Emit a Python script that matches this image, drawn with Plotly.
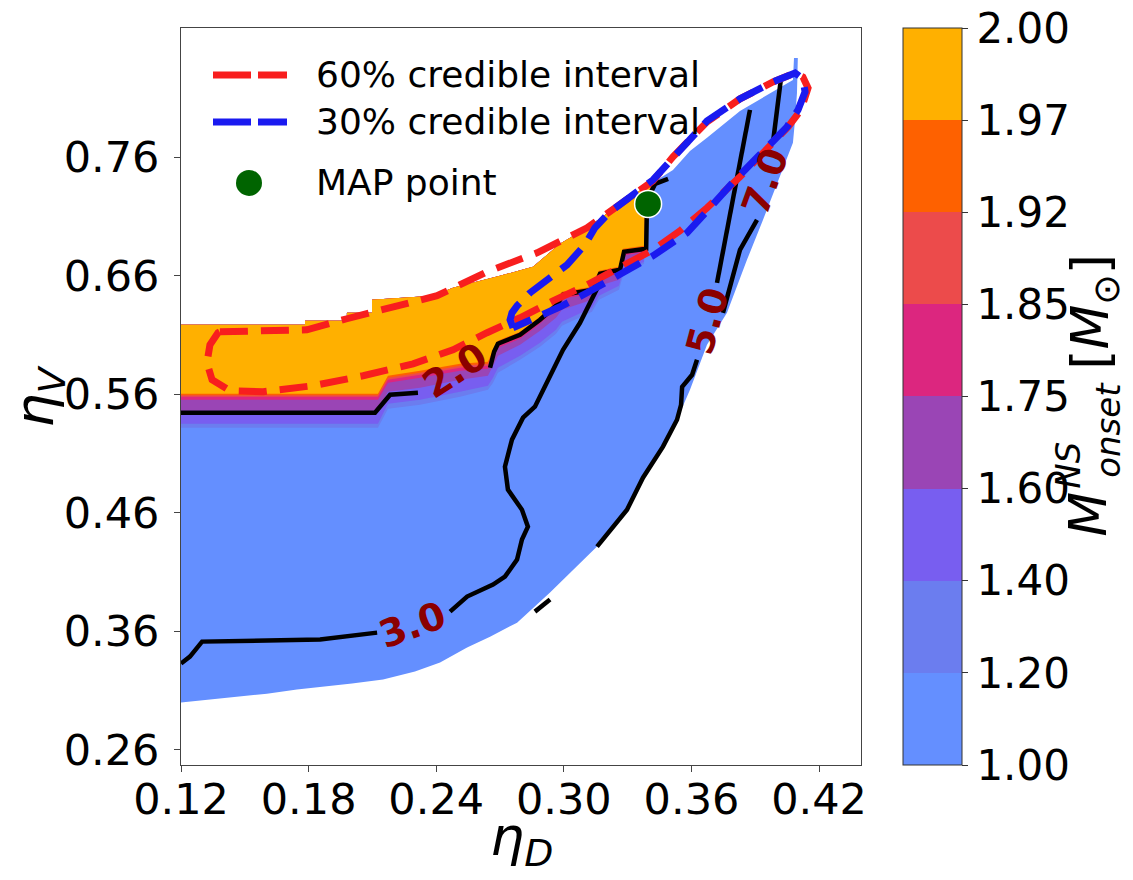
import plotly.graph_objects as go

# ---------------------------------------------------------------------------
# Colour bins of M_onset^NS (bin edges) and the colour of each bin
# ---------------------------------------------------------------------------
mass_levels = [1.00, 1.20, 1.40, 1.60, 1.75, 1.85, 1.92, 1.97, 2.00]
bin_colors = ["#648FFF", "#6B7DEF", "#785EF0", "#9A45B5",
              "#DC267F", "#EC4B4B", "#FE6100", "#FFB000"]

# ---------------------------------------------------------------------------
# Outer edge of the region with a solution (eta_D, eta_V)
# ---------------------------------------------------------------------------
edge_bottom_x = [0.1200, 0.1336, 0.1468, 0.1604, 0.1745, 0.1877, 0.2004, 0.2150,
                 0.2300, 0.2418, 0.2545, 0.2653, 0.2780, 0.2935, 0.3090, 0.3156,
                 0.3297, 0.3372, 0.3466, 0.3546, 0.3593, 0.3673, 0.3767, 0.3861,
                 0.3936, 0.4016, 0.4077, 0.4087, 0.4096, 0.4100]
edge_bottom_y = [0.2999, 0.3024, 0.3049, 0.3074, 0.3108, 0.3133, 0.3159, 0.3193,
                 0.3260, 0.3336, 0.3463, 0.3555, 0.3673, 0.3927, 0.4205, 0.4315,
                 0.4626, 0.4905, 0.5158, 0.5444, 0.5638, 0.6018, 0.6287, 0.6734,
                 0.7071, 0.7434, 0.7721, 0.7915, 0.8142, 0.8437]
edge_top_x = [0.1200, 0.1783, 0.1783, 0.1980, 0.1980, 0.2098, 0.2098, 0.2385,
              0.2479, 0.2700, 0.2855, 0.2982, 0.3109, 0.3325, 0.3429, 0.3513,
              0.3593, 0.3673, 0.3828, 0.3983, 0.4077, 0.4082, 0.4100]
edge_top_y = [0.6186, 0.6186, 0.6220, 0.6220, 0.6287, 0.6287, 0.6397, 0.6431,
              0.6498, 0.6599, 0.6675, 0.6869, 0.7004, 0.7282, 0.7400, 0.7493,
              0.7653, 0.7763, 0.7990, 0.8151, 0.8252, 0.8437, 0.8437]

# ---------------------------------------------------------------------------
# Lower boundary of the region where M_onset^NS exceeds each bin edge
# ---------------------------------------------------------------------------
band_x = [0.1200, 0.2126, 0.2173, 0.2324, 0.2512, 0.2643, 0.2667, 0.2690, 0.2794,
          0.2888, 0.2963, 0.2991, 0.3132, 0.3165, 0.3259, 0.3278, 0.3377, 0.3382,
          0.3415, 0.3429]
band_y_120 = [0.5317, 0.5317, 0.5478, 0.5511, 0.5579, 0.5638, 0.5697, 0.5781, 0.5891,
              0.6001, 0.6110, 0.6178, 0.6296, 0.6397, 0.6481, 0.6599, 0.6700, 0.7240,
              0.7375, 0.7400]
band_y_140 = [0.5351, 0.5351, 0.5520, 0.5554, 0.5621, 0.5672, 0.5739, 0.5823, 0.5925,
              0.6034, 0.6144, 0.6211, 0.6329, 0.6430, 0.6515, 0.6633, 0.6717, 0.7240,
              0.7375, 0.7400]
band_y_160 = [0.5461, 0.5461, 0.5621, 0.5655, 0.5722, 0.5756, 0.5840, 0.5925, 0.6017,
              0.6136, 0.6245, 0.6312, 0.6397, 0.6515, 0.6565, 0.6700, 0.6768, 0.7240,
              0.7375, 0.7400]
band_y_175 = [0.5554, 0.5554, 0.5697, 0.5739, 0.5798, 0.5815, 0.5916, 0.5992, 0.6068,
              0.6194, 0.6321, 0.6405, 0.6447, 0.6582, 0.6616, 0.6768, 0.6802, 0.7240,
              0.7375, 0.7400]
band_y_185 = [0.5579, 0.5579, 0.5722, 0.5764, 0.5823, 0.5840, 0.5942, 0.6017, 0.6093,
              0.6220, 0.6346, 0.6430, 0.6472, 0.6608, 0.6641, 0.6793, 0.6818, 0.7240,
              0.7375, 0.7400]
band_y_192 = [0.5591, 0.5591, 0.5739, 0.5781, 0.5840, 0.5857, 0.5958, 0.6034, 0.6110,
              0.6236, 0.6363, 0.6447, 0.6489, 0.6624, 0.6658, 0.6810, 0.6835, 0.7240,
              0.7375, 0.7400]
band_y_197 = [0.5604, 0.5604, 0.5756, 0.5798, 0.5857, 0.5874, 0.5975, 0.6051, 0.6127,
              0.6253, 0.6380, 0.6464, 0.6506, 0.6641, 0.6675, 0.6827, 0.6852, 0.7240,
              0.7375, 0.7400]

# ---------------------------------------------------------------------------
# Black iso-lines (each one is a list of segments, broken at its label)
# ---------------------------------------------------------------------------
contour_levels = [2.0, 3.0, 5.0, 7.0]

iso_20_x = [[0.1200, 0.2112, 0.2183, 0.2314],
            [0.2653, 0.2672, 0.2690, 0.2794, 0.2888, 0.2968, 0.2996, 0.3137, 0.3170,
             0.3264, 0.3283, 0.3387, 0.3391, 0.3429, 0.3490]]
iso_20_y = [[0.5444, 0.5444, 0.5596, 0.5613],
            [0.5823, 0.5958, 0.6026, 0.6102, 0.6228, 0.6355, 0.6439, 0.6481, 0.6616,
             0.6650, 0.6802, 0.6827, 0.7240, 0.7375, 0.7417]]

iso_30_x = [[0.1200, 0.1242, 0.1299, 0.1618, 0.1854, 0.2122],
            [0.2465, 0.2545, 0.2667, 0.2723, 0.2780, 0.2803, 0.2831, 0.2803, 0.2737,
             0.2723, 0.2756, 0.2808, 0.2864, 0.2921, 0.2996, 0.3076, 0.3137, 0.3170]]
iso_30_y = [[0.3328, 0.3387, 0.3513, 0.3522, 0.3530, 0.3589],
            [0.3766, 0.3893, 0.3994, 0.4061, 0.4205, 0.4374, 0.4483, 0.4626, 0.4795,
             0.4989, 0.5217, 0.5402, 0.5495, 0.5697, 0.5975, 0.6203, 0.6422, 0.6540]]

iso_50_x = [[0.2864, 0.2935],
            [0.3156, 0.3297, 0.3372, 0.3466, 0.3532, 0.3551, 0.3556, 0.3603, 0.3626],
            [0.3720, 0.3795, 0.3875]]
iso_50_y = [[0.3766, 0.3868],
            [0.4315, 0.4626, 0.4896, 0.5158, 0.5385, 0.5511, 0.5663, 0.5764, 0.5891],
            [0.6540, 0.7240, 0.7999]]

iso_70_x = [[0.3748, 0.3828, 0.3908],
            [0.3983, 0.4007, 0.4021]]
iso_70_y = [[0.6287, 0.6818, 0.7071],
            [0.7721, 0.8083, 0.8269]]

# ---------------------------------------------------------------------------
# Credible-interval contours and the maximum a posteriori point
# ---------------------------------------------------------------------------
ci60_x = [0.1383, 0.1571, 0.1792, 0.1980, 0.2197, 0.2404, 0.2639, 0.2874, 0.3109,
          0.3264, 0.3419, 0.3513, 0.3673, 0.3828, 0.3983, 0.4087, 0.4124, 0.4148,
          0.4115, 0.4054, 0.3983, 0.3828, 0.3673, 0.3546, 0.3419, 0.3264, 0.3109,
          0.2949, 0.2794, 0.2639, 0.2479, 0.2291, 0.2056, 0.1821, 0.1586, 0.1430,
          0.1346, 0.1322, 0.1336, 0.1374, 0.1383]
ci60_y = [0.6127, 0.6136, 0.6144, 0.6237, 0.6338, 0.6431, 0.6633, 0.6793, 0.7004,
          0.7206, 0.7400, 0.7603, 0.7898, 0.8092, 0.8235, 0.8311, 0.8277, 0.8184,
          0.7999, 0.7855, 0.7721, 0.7434, 0.7173, 0.6979, 0.6818, 0.6667, 0.6523,
          0.6388, 0.6245, 0.6119, 0.5975, 0.5857, 0.5756, 0.5672, 0.5621, 0.5630,
          0.5722, 0.5865, 0.6017, 0.6119, 0.6127]

ci30_x = [0.2761, 0.2747, 0.2756, 0.2780, 0.2841, 0.2921, 0.3015, 0.3099, 0.3146,
          0.3217, 0.3297, 0.3419, 0.3513, 0.3673, 0.3828, 0.3983, 0.4087, 0.4124,
          0.4134, 0.4101, 0.4049, 0.3983, 0.3889, 0.3805, 0.3687, 0.3579, 0.3419,
          0.3264, 0.3109, 0.2982, 0.2874, 0.2761]
ci30_y = [0.6161, 0.6228, 0.6287, 0.6346, 0.6456, 0.6565, 0.6692, 0.6861, 0.7004,
          0.7139, 0.7240, 0.7408, 0.7594, 0.7906, 0.8092, 0.8235, 0.8311, 0.8260,
          0.8151, 0.7999, 0.7855, 0.7738, 0.7577, 0.7408, 0.7173, 0.6962, 0.6768,
          0.6608, 0.6456, 0.6338, 0.6245, 0.6161]

map_eta_d = [0.3396]
map_eta_v = [0.7206]

# axis ticks
x_ticks = [0.12, 0.18, 0.24, 0.30, 0.36, 0.42]
y_ticks = [0.26, 0.36, 0.46, 0.56, 0.66, 0.76]

# ---------------------------------------------------------------------------
FONT = "DejaVu Sans"
RED = "#F81E1E"
BLUE = "#1A1AF0"
GREEN = "#006400"
LABEL_RED = "#8B0000"
TICK_SIZE = 43

fig = go.Figure()

# base region (lowest bin)
fig.add_trace(go.Scatter(
    x=edge_bottom_x + edge_top_x[::-1], y=edge_bottom_y + edge_top_y[::-1],
    mode="lines", fill="toself", fillcolor=bin_colors[0],
    line=dict(width=0), hoverinfo="skip", showlegend=False))

# nested regions above each bin edge, closed along the upper edge
x_end = band_x[-1]
crest = [(x, y) for x, y in zip(edge_top_x, edge_top_y) if x < x_end][::-1]
band_ys = [band_y_120, band_y_140, band_y_160, band_y_175,
           band_y_185, band_y_192, band_y_197]
for color, ys in zip(bin_colors[1:], band_ys):
    fig.add_trace(go.Scatter(
        x=band_x + [c[0] for c in crest], y=ys + [c[1] for c in crest],
        mode="lines", fill="toself", fillcolor=color,
        line=dict(width=0), hoverinfo="skip", showlegend=False))

# colour bar carrier (placed outside the visible axis range)
n_bins = len(bin_colors)
colorscale = []
for i, c in enumerate(bin_colors):
    colorscale += [[i / n_bins, c], [(i + 1) / n_bins, c]]
fig.add_trace(go.Heatmap(
    z=[[i + 0.5 for i in range(n_bins)]],
    x=[5.0 + i for i in range(n_bins)], y=[5.0],
    zmin=0, zmax=n_bins, colorscale=colorscale, hoverinfo="skip",
    colorbar=dict(
        thickness=59, thicknessmode="pixels", len=1.0, lenmode="fraction",
        x=(903 - 181) / 680, xanchor="left", xpad=0,
        y=0.5, yanchor="middle", ypad=0,
        outlinewidth=1, outlinecolor="#333",
        tickmode="array", tickvals=list(range(n_bins + 1)),
        ticktext=[f"{v:.2f}" for v in mass_levels],
        ticks="outside", ticklen=6, tickcolor="#333",
        tickfont=dict(family=FONT, size=TICK_SIZE - 1, color="black"),
    )))

# black iso-lines
for xs_list, ys_list in [(iso_20_x, iso_20_y), (iso_30_x, iso_30_y),
                         (iso_50_x, iso_50_y), (iso_70_x, iso_70_y)]:
    for xs, ys in zip(xs_list, ys_list):
        fig.add_trace(go.Scatter(x=xs, y=ys, mode="lines",
                                 line=dict(color="black", width=4.5),
                                 hoverinfo="skip", showlegend=False))

# credible intervals
fig.add_trace(go.Scatter(x=ci60_x, y=ci60_y, mode="lines",
                         line=dict(color=RED, width=7, dash="28px,13px"),
                         hoverinfo="skip", showlegend=False))
fig.add_trace(go.Scatter(x=ci30_x, y=ci30_y, mode="lines",
                         line=dict(color=BLUE, width=7, dash="28px,13px"),
                         hoverinfo="skip", showlegend=False))

# MAP point
fig.add_trace(go.Scatter(x=map_eta_d, y=map_eta_v, mode="markers",
                         marker=dict(color=GREEN, size=27,
                                     line=dict(color="white", width=1.5)),
                         hoverinfo="skip", showlegend=False))

# iso-line labels
label_spots = {2.0: (0.2484, 0.5800, -33), 3.0: (0.2290, 0.3650, -20),
               5.0: (0.3673, 0.6212, -75), 7.0: (0.3946, 0.7391, -70)}
for lev in contour_levels:
    lx, ly, ang = label_spots[lev]
    fig.add_annotation(x=lx, y=ly, text=f"<b>{lev:.1f}</b>", showarrow=False,
                       textangle=ang, xanchor="center", yanchor="middle",
                       font=dict(family=FONT, size=38, color=LABEL_RED))


# helpers for placing decorations in plot-fraction coordinates
def px_x(p):
    return (p - 181) / 680


def px_y(p):
    return (765.5 - p) / 737.5


# legend
fig.add_shape(type="line", xref="paper", yref="paper",
              x0=px_x(213), x1=px_x(287), y0=px_y(75), y1=px_y(75),
              line=dict(color=RED, width=7, dash="38px,7px"))
fig.add_shape(type="line", xref="paper", yref="paper",
              x0=px_x(213), x1=px_x(287), y0=px_y(122), y1=px_y(122),
              line=dict(color=BLUE, width=7, dash="38px,7px"))
fig.add_shape(type="circle", xref="paper", yref="paper",
              xsizemode="pixel", ysizemode="pixel",
              xanchor=px_x(249), yanchor=px_y(183),
              x0=-13, x1=13, y0=-13, y1=13,
              fillcolor=GREEN, line=dict(width=0))
for text, yy in [("60% credible interval", 75), ("30% credible interval", 122),
                 ("MAP point", 183)]:
    fig.add_annotation(xref="paper", yref="paper", x=px_x(314), y=px_y(yy),
                       text=text, showarrow=False, xanchor="left", yanchor="middle",
                       font=dict(family=FONT, size=36, color="black"))

# colour-bar title, with the superscript stacked above the subscript
for text, cx, cy, size in [("<i>M</i>", 1088, 515, 52),
                           ("<i>NS</i>", 1068, 466, 34),
                           ("<i>onset</i>", 1108, 430, 34),
                           ("[<i>M</i><sub>⊙</sub>]", 1094, 312, 52)]:
    fig.add_annotation(xref="paper", yref="paper", x=px_x(cx), y=px_y(cy),
                       text=text, showarrow=False, textangle=-90,
                       xanchor="center", yanchor="middle",
                       font=dict(family=FONT, size=size, color="black"))

# axis titles
fig.add_annotation(xref="paper", yref="paper", x=px_x(521), y=px_y(841),
                   text="<i>η</i><sub><i>D</i></sub>", showarrow=False,
                   xanchor="center", yanchor="middle",
                   font=dict(family=FONT, size=54, color="black"))
fig.add_annotation(xref="paper", yref="paper", x=px_x(38), y=px_y(397),
                   text="<i>η</i><sub><i>V</i></sub>", showarrow=False, textangle=-90,
                   xanchor="center", yanchor="middle",
                   font=dict(family=FONT, size=54, color="black"))

axis_common = dict(showgrid=False, zeroline=False, showline=True, mirror=True,
                   linecolor="#444", linewidth=1, ticks="outside", ticklen=6,
                   tickcolor="#444",
                   tickfont=dict(family=FONT, size=TICK_SIZE, color="black"))
fig.update_layout(
    width=1133, height=880,
    margin=dict(l=181, r=272, t=28, b=114.5, autoexpand=False),
    paper_bgcolor="white", plot_bgcolor="white",
    showlegend=False,
    xaxis=dict(range=[0.12, 0.4397], tickmode="array", tickvals=x_ticks,
               ticktext=[f"{v:.2f}" for v in x_ticks], ticklabelstandoff=-10,
               **axis_common),
    yaxis=dict(range=[0.2472, 0.8690], tickmode="array", tickvals=y_ticks,
               ticktext=[f"{v:.2f}" for v in y_ticks], ticklabelstandoff=6,
               **axis_common),
)

fig.write_html("out.html")
